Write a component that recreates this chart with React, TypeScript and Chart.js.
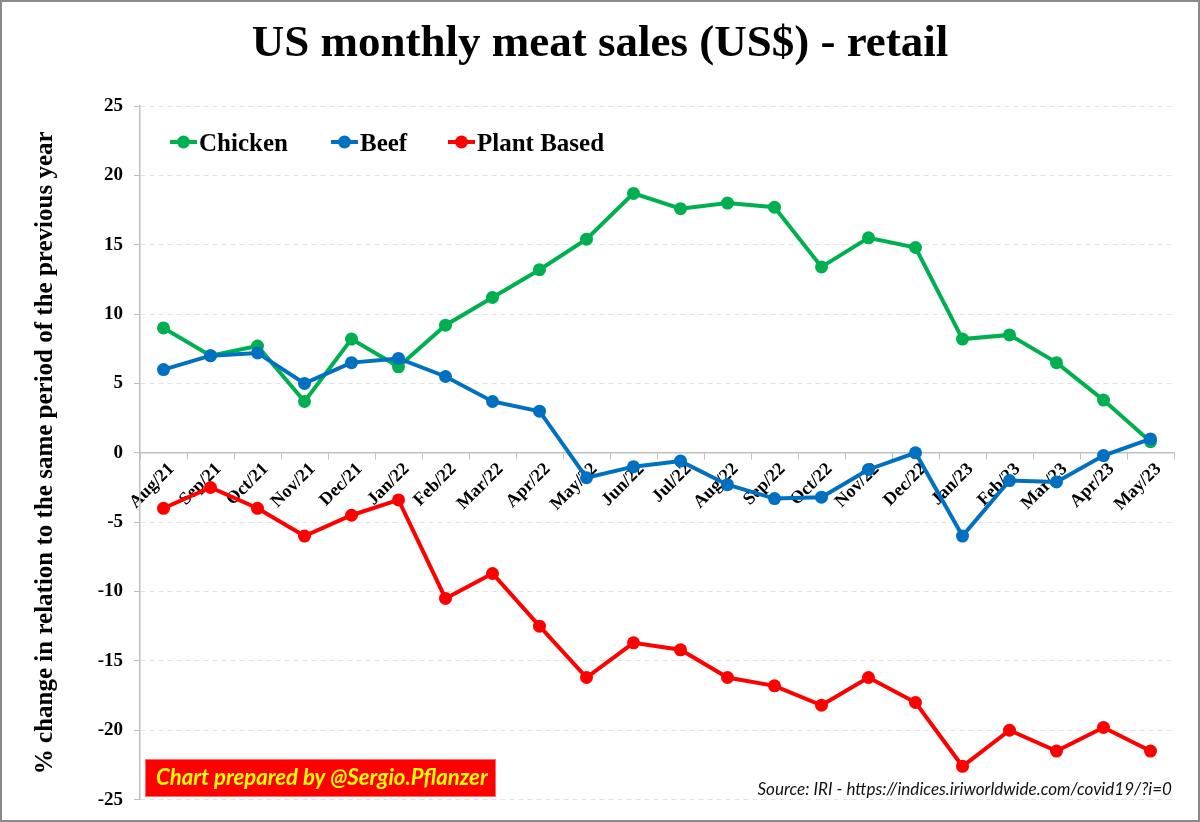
import React, { useEffect, useRef } from "react";
import { Chart, registerables } from "chart.js";

Chart.register(...registerables);

// Months on the category axis
const months = [
  "Aug/21", "Sep/21", "Oct/21", "Nov/21", "Dec/21", "Jan/22", "Feb/22", "Mar/22",
  "Apr/22", "May/22", "Jun/22", "Jul/22", "Aug/22", "Sep/22", "Oct/22", "Nov/22",
  "Dec/22", "Jan/23", "Feb/23", "Mar/23", "Apr/23", "May/23",
];

// Year-over-year % change in retail sales (US$)
const chicken = [
  9.0, 7.0, 7.7, 3.7, 8.2, 6.2, 9.2, 11.2, 13.2, 15.4, 18.7, 17.6,
  18.0, 17.7, 13.4, 15.5, 14.8, 8.2, 8.5, 6.5, 3.8, 0.8,
];
const beef = [
  6.0, 7.0, 7.2, 5.0, 6.5, 6.8, 5.5, 3.7, 3.0, -1.8, -1.0, -0.6,
  -2.3, -3.3, -3.2, -1.2, 0.0, -6.0, -2.0, -2.1, -0.2, 1.0,
];
const plantBased = [
  -4.0, -2.5, -4.0, -6.0, -4.5, -3.4, -10.5, -8.7, -12.5, -16.2, -13.7, -14.2,
  -16.2, -16.8, -18.2, -16.2, -18.0, -22.6, -20.0, -21.5, -19.8, -21.5,
];

// Value axis range
const yMin = -25;
const yMax = 25;
const yStep = 5;

const TITLE = "US monthly meat sales (US$) - retail";
const Y_TITLE = "% change in relation to the same period of the previous year";
const CREDIT = "Chart prepared by @Sergio.Pflanzer";
const SOURCE = "Source: IRI - https://indices.iriworldwide.com/covid19/?i=0";

const GREEN = "#00B050";
const BLUE = "#0070C0";
const RED = "#FF0000";
const AXIS_GRAY = "#BFBFBF";
const GRID_GRAY = "#E3E3E3";
const SERIF = "'Liberation Serif', 'Times New Roman', serif";
const SANS = "Lato, 'Open Sans', sans-serif";

// Sets a font whose size makes the text span the given width
function fitFont(ctx: CanvasRenderingContext2D, text: string, style: string, family: string, width: number) {
  ctx.font = `${style} 20px ${family}`;
  const w = ctx.measureText(text).width;
  const size = (20 * width) / w;
  ctx.font = `${style} ${size}px ${family}`;
}

const legendItems = [
  { label: "Chicken", color: GREEN, x: 170 },
  { label: "Beef", color: BLUE, x: 331 },
  { label: "Plant Based", color: RED, x: 448 },
];

const decorations = {
  id: "decorations",
  afterDraw(chart: any) {
    const ctx: CanvasRenderingContext2D = chart.ctx;
    const w = chart.width;
    const h = chart.height;
    ctx.save();

    // Title
    ctx.fillStyle = "#000";
    ctx.font = `bold 45px ${SERIF}`;
    ctx.textAlign = "center";
    ctx.textBaseline = "alphabetic";
    ctx.fillText(TITLE, w / 2, 56);

    // Legend inside the plot area
    const ly = 142;
    ctx.font = `bold 25px ${SERIF}`;
    ctx.textAlign = "left";
    for (const item of legendItems) {
      ctx.strokeStyle = item.color;
      ctx.lineWidth = 4;
      ctx.beginPath();
      ctx.moveTo(item.x, ly);
      ctx.lineTo(item.x + 27, ly);
      ctx.stroke();
      ctx.fillStyle = item.color;
      ctx.beginPath();
      ctx.arc(item.x + 13.5, ly, 6.5, 0, Math.PI * 2);
      ctx.fill();
      ctx.fillStyle = "#000";
      ctx.fillText(item.label, item.x + 29, ly + 9);
    }

    // Credit badge
    ctx.fillStyle = RED;
    ctx.fillRect(145, 759, 351, 38);
    ctx.strokeStyle = "#FF6A6A";
    ctx.lineWidth = 1;
    ctx.strokeRect(145.5, 759.5, 350, 37);
    ctx.fillStyle = "#FFFF00";
    fitFont(ctx, CREDIT, "italic bold", SANS, 332);
    ctx.textAlign = "left";
    ctx.fillText(CREDIT, 156, 785);

    // Source note
    ctx.fillStyle = "#111";
    fitFont(ctx, SOURCE, "italic", SANS, 415);
    ctx.textAlign = "right";
    ctx.fillText(SOURCE, 1172, 795);

    // Outer frame
    ctx.strokeStyle = "#8A8A8A";
    ctx.lineWidth = 2;
    ctx.strokeRect(1, 1, w - 2, h - 2);
    ctx.restore();
  },
};

export default function App() {
  const ref = useRef<HTMLCanvasElement>(null);

  useEffect(() => {
    document.body.style.margin = "0";
    const series = [
      { label: "Chicken", data: chicken, color: GREEN, order: 1 },
      { label: "Beef", data: beef, color: BLUE, order: 0 },
      { label: "Plant Based", data: plantBased, color: RED, order: 2 },
    ];
    const chart = new Chart(ref.current!, {
      type: "line",
      data: {
        labels: months,
        datasets: series.map((s) => ({
          label: s.label,
          data: s.data,
          order: s.order,
          borderColor: s.color,
          backgroundColor: s.color,
          pointBackgroundColor: s.color,
          pointBorderColor: s.color,
          borderWidth: 4,
          pointRadius: 6.5,
          pointBorderWidth: 0,
          tension: 0,
          fill: false,
        })),
      },
      options: {
        responsive: false,
        animation: false,
        layout: { padding: { top: 106, right: 26, bottom: 20, left: 0 } },
        plugins: {
          legend: { display: false },
          tooltip: { enabled: false },
          title: { display: false },
        },
        scales: {
          x: {
            type: "category",
            position: { y: 0 },
            offset: true,
            grid: {
              display: true,
              drawOnChartArea: false,
              drawTicks: true,
              tickLength: 6,
              tickColor: AXIS_GRAY,
              offset: true,
            },
            border: { display: true, color: AXIS_GRAY, width: 1.5 },
            ticks: {
              autoSkip: false,
              minRotation: 45,
              maxRotation: 45,
              color: "#000",
              padding: 0,
              labelOffset: 8,
              font: { family: SERIF, size: 18, weight: "bold" },
            },
          },
          y: {
            min: yMin,
            max: yMax,
            ticks: {
              stepSize: yStep,
              color: "#000",
              padding: 11,
              font: { family: SERIF, size: 19, weight: "bold" },
            },
            grid: {
              color: GRID_GRAY,
              lineWidth: 1,
              tickLength: 6,
              tickColor: AXIS_GRAY,
            },
            border: { display: true, color: AXIS_GRAY, width: 1.5, dash: [5, 4] },
            title: {
              display: true,
              text: Y_TITLE,
              color: "#000",
              padding: { top: 31, bottom: 0 },
              font: { family: SERIF, size: 25, weight: "bold" },
            },
            afterFit(scale: any) {
              scale.width = 140;
            },
          },
        },
      } as any,
      plugins: [decorations],
    });
    return () => chart.destroy();
  }, []);

  return (
    <div style={{ width: 1200, height: 822, background: "#fff" }}>
      <canvas ref={ref} width={1200} height={822} />
    </div>
  );
}
